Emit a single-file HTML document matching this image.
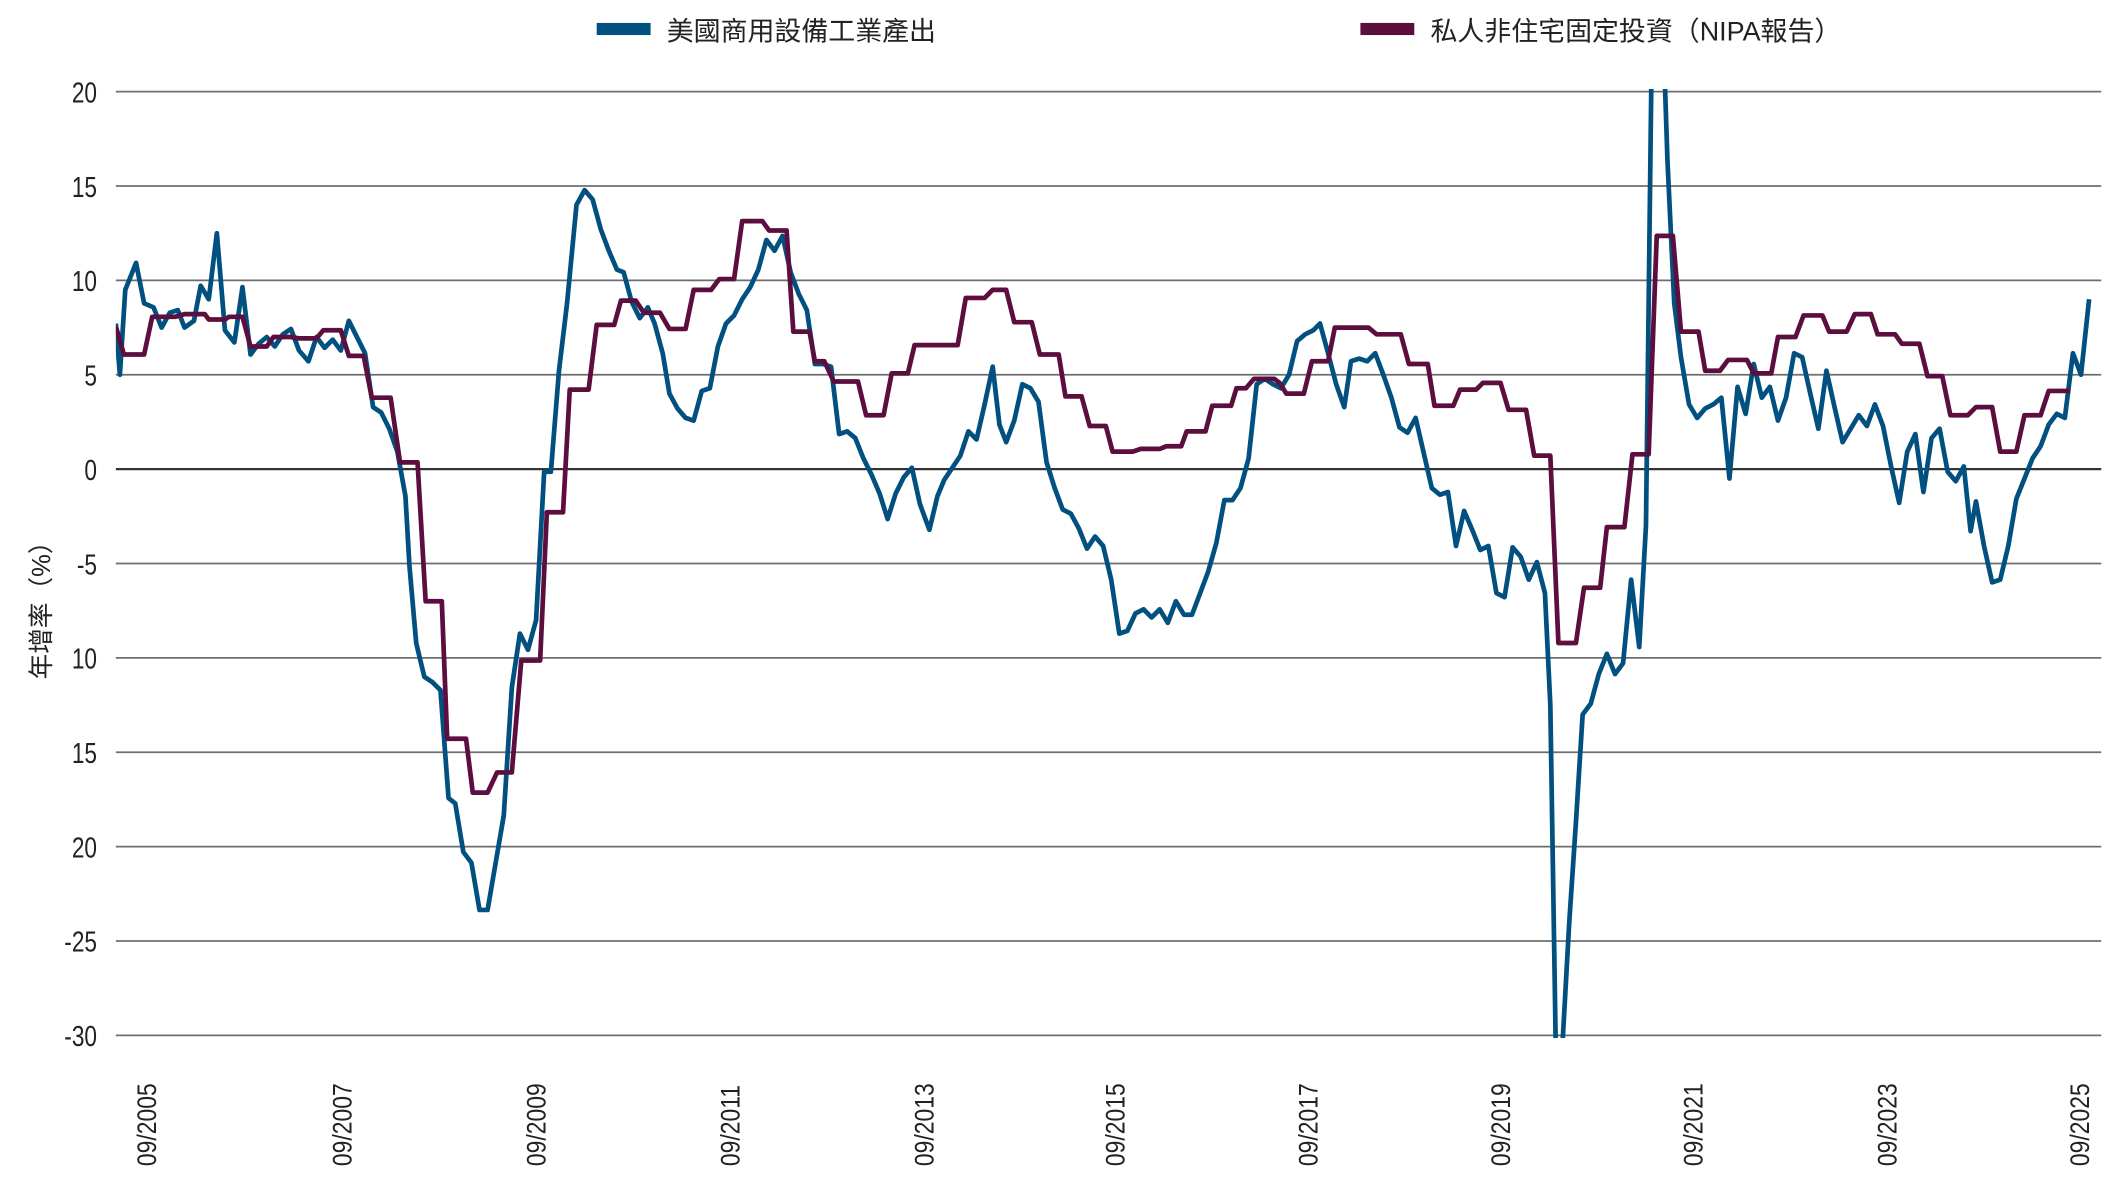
<!DOCTYPE html>
<html><head><meta charset="utf-8"><style>
html,body{margin:0;padding:0;background:#fff;}
svg{display:block;}
text{font-family:"Liberation Sans","Noto Sans CJK TC",sans-serif;fill:#222;}
</style></head><body>
<svg width="2112" height="1189" viewBox="0 0 1568 882" preserveAspectRatio="none">
<defs><clipPath id="c"><rect x="86" y="66" width="1474" height="704"/></clipPath></defs>
<g stroke="#6e6e6e" stroke-width="1.3">
<line x1="86" x2="1560" y1="68" y2="68"/><line x1="86" x2="1560" y1="138" y2="138"/>
<line x1="86" x2="1560" y1="208" y2="208"/><line x1="86" x2="1560" y1="278" y2="278"/>
<line x1="86" x2="1560" y1="418" y2="418"/><line x1="86" x2="1560" y1="488" y2="488"/>
<line x1="86" x2="1560" y1="558" y2="558"/><line x1="86" x2="1560" y1="628" y2="628"/>
<line x1="86" x2="1560" y1="698" y2="698"/><line x1="86" x2="1560" y1="768" y2="768"/>
</g>
<line x1="86" x2="1560" y1="348" y2="348" stroke="#333" stroke-width="1.6"/>
<g font-size="21" text-anchor="end" transform="translate(72,0)">
<text transform="translate(0,76) scale(0.8,1)">20</text>
<text transform="translate(0,146) scale(0.8,1)">15</text>
<text transform="translate(0,216) scale(0.8,1)">10</text>
<text transform="translate(0,286) scale(0.8,1)">5</text>
<text transform="translate(0,356) scale(0.8,1)">0</text>
<text transform="translate(0,426) scale(0.8,1)">-5</text>
<text transform="translate(0,496) scale(0.8,1)">10</text>
<text transform="translate(0,566) scale(0.8,1)">15</text>
<text transform="translate(0,636) scale(0.8,1)">20</text>
<text transform="translate(0,706) scale(0.8,1)">-25</text>
<text transform="translate(0,776) scale(0.8,1)">-30</text>
</g>
<text font-size="19" text-anchor="middle" transform="translate(37,448) rotate(-90)">年增率（%）</text>
<g font-size="20">
<text transform="translate(116,865) rotate(-90) scale(0.85,1)">09/2005</text>
<text transform="translate(261,865) rotate(-90) scale(0.85,1)">09/2007</text>
<text transform="translate(405,865) rotate(-90) scale(0.85,1)">09/2009</text>
<text transform="translate(549,865) rotate(-90) scale(0.85,1)">09/2011</text>
<text transform="translate(693,865) rotate(-90) scale(0.85,1)">09/2013</text>
<text transform="translate(835,865) rotate(-90) scale(0.85,1)">09/2015</text>
<text transform="translate(978,865) rotate(-90) scale(0.85,1)">09/2017</text>
<text transform="translate(1121,865) rotate(-90) scale(0.85,1)">09/2019</text>
<text transform="translate(1264,865) rotate(-90) scale(0.85,1)">09/2021</text>
<text transform="translate(1408,865) rotate(-90) scale(0.85,1)">09/2023</text>
<text transform="translate(1551,865) rotate(-90) scale(0.85,1)">09/2025</text>
</g>
<rect x="443" y="17" width="40" height="9" fill="#01507f"/>
<text x="495" y="30" font-size="20">美國商用設備工業產出</text>
<rect x="1010" y="17" width="40" height="9" fill="#5c0f3f"/>
<text x="1062" y="30" font-size="20">私人非住宅固定投資（NIPA報告）</text>
<g clip-path="url(#c)" fill="none" stroke-width="3.5" stroke-linejoin="round">
<polyline stroke="#01507f" points="86,240 89,278 93,215 101,195 107,225 114,228 120,243 126,232 132,230 137,243 144,238 149,212 155,222 161,173 167,245 174,254 180,213 186,263 192,255 198,250 204,257 210,248 216,244 222,260 229,268 235,250 241,258 247,252 253,260 259,238 265,250 271,262 277,302 283,306 289,318 295,335 301,368 304,420 309,477 315,502 321,506 327,512 333,592 338,596 344,632 350,640 356,675 362,675 368,640 374,605 380,510 386,470 392,482 398,460 404,350 409,350 415,275 421,225 428,152 434,141 440,148 446,170 452,186 458,200 463,202 469,224 475,236 481,228 486,240 492,262 497,292 503,303 509,310 515,312 521,290 527,288 533,257 539,240 545,234 551,222 557,213 563,200 569,178 575,186 581,175 587,202 593,218 599,230 605,270 611,270 617,272 623,322 629,320 635,325 641,340 647,352 653,366 659,385 665,366 671,354 677,347 683,374 690,393 696,368 701,356 707,347 713,338 719,320 725,326 731,300 737,272 742,315 747,328 753,312 759,285 765,288 771,298 777,343 783,362 789,378 795,381 801,392 807,407 813,398 819,405 825,430 831,470 837,468 843,455 849,452 855,458 861,452 867,462 873,446 879,456 885,456 891,440 897,424 903,403 909,371 915,371 921,362 927,340 933,285 939,281 945,285 951,288 957,278 963,253 969,248 975,245 980,240 986,262 992,285 998,302 1003,268 1009,266 1015,268 1021,262 1027,278 1033,295 1039,317 1045,321 1051,310 1057,336 1063,362 1069,367 1075,365 1081,405 1087,379 1093,393 1099,408 1105,405 1111,440 1117,443 1123,406 1129,413 1135,430 1141,417 1147,440 1151,523 1155,775 1160,775 1165,685 1170,610 1175,530 1181,522 1187,500 1193,485 1199,500 1205,492 1211,430 1217,480 1222,390 1226,60 1236,60 1238,120 1243,225 1248,265 1254,300 1260,310 1266,303 1272,300 1278,295 1284,355 1290,287 1296,307 1302,270 1308,295 1314,287 1320,312 1326,295 1332,262 1338,265 1344,292 1350,318 1356,275 1362,302 1368,328 1374,318 1380,308 1386,316 1392,300 1398,316 1404,346 1410,373 1416,335 1422,322 1428,365 1434,325 1440,318 1446,350 1452,357 1458,346 1463,394 1467,372 1473,405 1479,432 1485,430 1491,405 1497,370 1503,355 1509,340 1515,331 1521,315 1527,307 1533,310 1539,262 1545,278 1551,222"/>
<polyline stroke="#5c0f3f" points="86,242 92,263 107,263 113,235 130,235 137,233 152,233 155,237 167,237 170,235 180,235 186,257 198,257 203,250 216,250 222,251 235,251 240,245 253,245 259,264 270,264 276,295 290,295 297,343 310,343 316,446 328,446 332,548 346,548 351,588 362,588 369,573 380,573 387,490 401,490 406,380 418,380 423,289 437,289 443,241 456,241 461,223 472,223 478,232 490,232 497,244 509,244 515,215 528,215 534,207 545,207 551,164 566,164 571,171 584,171 589,246 601,246 605,268 612,268 619,283 637,283 643,308 656,308 662,277 674,277 679,256 711,256 717,221 731,221 737,215 747,215 753,239 766,239 772,263 786,263 791,294 803,294 809,316 821,316 826,335 841,335 847,333 861,333 866,331 877,331 881,320 895,320 900,301 914,301 918,288 925,288 931,281 946,281 950,284 955,292 968,292 974,268 986,268 991,243 1016,243 1022,248 1040,248 1046,270 1060,270 1065,301 1079,301 1084,289 1096,289 1101,284 1114,284 1120,304 1133,304 1139,338 1151,338 1157,477 1170,477 1176,436 1188,436 1193,391 1206,391 1212,337 1224,337 1230,175 1242,175 1248,246 1261,246 1266,275 1277,275 1283,267 1297,267 1302,277 1315,277 1320,250 1333,250 1339,234 1353,234 1358,246 1371,246 1377,233 1389,233 1394,248 1407,248 1412,255 1425,255 1431,279 1442,279 1448,308 1461,308 1467,302 1479,302 1485,335 1497,335 1503,308 1515,308 1521,290 1537,290"/>
</g>
</svg>
</body></html>
